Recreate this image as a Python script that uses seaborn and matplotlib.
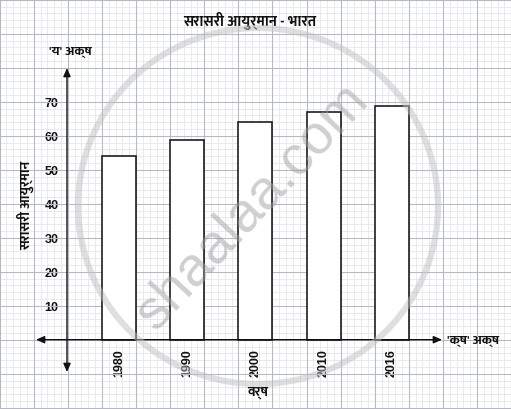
import matplotlib
matplotlib.use('Agg')
import matplotlib.pyplot as plt
import seaborn as sns
import pandas as pd
import numpy as np
from matplotlib import font_manager as fm
from matplotlib.patches import Ellipse

# data
years = ['1980', '1990', '2000', '2010', '2016']
life_exp = [54, 58.8, 64, 67, 68.6]
y_ticks = [10, 20, 30, 40, 50, 60, 70]

title = 'सरासरी आयुर्मान - भारत'
y_label = 'सरासरी आयुर्मान'
x_label = 'वर्ष'
y_axis_name = "'य' अक्ष"
x_axis_name = "'क्ष' अक्ष"


def find_devanagari_font():
    # look for any installed font that has Devanagari glyphs
    try:
        from fontTools.ttLib import TTFont
    except ImportError:
        return None
    found = []
    for path in fm.findSystemFonts():
        try:
            tt = TTFont(path, fontNumber=0, lazy=True)
            cmap = tt.getBestCmap()
            if cmap and 0x0915 in cmap and 0x094D in cmap:
                found.append(path)
        except Exception:
            pass
    if not found:
        return None
    bold = [p for p in found if 'bold' in p.lower()]
    path = (bold or found)[0]
    fm.fontManager.addfont(path)
    return fm.FontProperties(fname=path).get_name()


sns.set_style('white')
deva = find_devanagari_font()
deva_family = [deva, 'Liberation Sans', 'DejaVu Sans'] if deva else ['Liberation Sans', 'DejaVu Sans']
plt.rcParams['font.family'] = ['Liberation Sans', 'DejaVu Sans']

df = pd.DataFrame({'year': years, 'value': life_exp})

fig = plt.figure(figsize=(5.11, 4.10), dpi=100)
ax = fig.add_axes([0, 0, 1, 1])

sns.barplot(data=df, x='year', y='value', order=years, width=0.5,
            color='white', edgecolor='#1e1e1e', linewidth=1.2, ax=ax, zorder=3)

# pixel layout of the original: bar centres every 68.2 px, 10 units = 34 px
x0, sx = 119, 68.2
y0, sy = 340.7, 3.4
ax.set_xlim((0 - x0) / sx, (511 - x0) / sx)
ax.set_ylim((y0 - 410) / sy, y0 / sy)

# graph paper
xmin, xmax = ax.get_xlim()
ymin, ymax = ax.get_ylim()
minor_x = np.arange(-1.85, 5.8, 0.1)
major_x = np.arange(-1.75, 5.8, 0.5)
minor_y = np.arange(-20, 101, 2)
major_y = np.arange(-20, 101, 10)
ax.vlines(minor_x, ymin, ymax, color='#e4e6ee', lw=0.6, zorder=0)
ax.hlines(minor_y, xmin, xmax, color='#e4e6ee', lw=0.6, zorder=0)
ax.vlines(major_x, ymin, ymax, color='#b3b9c8', lw=0.75, zorder=1)
ax.hlines(major_y, xmin, xmax, color='#b3b9c8', lw=0.75, zorder=1)

# axes as arrows
y_axis_x = (67 - x0) / sx
for s in ax.spines.values():
    s.set_visible(False)
ax.spines['left'].set_position(('data', y_axis_x))
ax.spines['bottom'].set_position(('data', 0))
arrow = dict(arrowstyle='<|-|>,head_length=0.5,head_width=0.22', color='#111111',
             lw=1.0, shrinkA=0, shrinkB=0, mutation_scale=10)
ax.annotate('', xy=((442 - x0) / sx, 0), xytext=((36 - x0) / sx, 0),
            arrowprops=arrow, zorder=5)
ax.annotate('', xy=(y_axis_x, (y0 - 69) / sy), xytext=(y_axis_x, (y0 - 373) / sy),
            arrowprops=arrow, zorder=5)

ax.set_yticks(y_ticks)
ax.set_yticklabels([str(t) for t in y_ticks], fontsize=9, fontweight='bold')
ax.tick_params(axis='y', length=0, pad=6, colors='#111111')
ax.set_xticks(range(len(years)))
ax.set_xticklabels(years, rotation=90, fontsize=9, fontweight='bold')
ax.tick_params(axis='x', length=0, pad=6, colors='#111111')
ax.set_xlabel('')
ax.set_ylabel('')


def px_text(px, py, s, **kw):
    fig.text(px / 511, 1 - py / 410, s, family=deva_family, fontweight='bold',
             color='#111111', **kw)


px_text(250, 21, title, fontsize=10.5, ha='center', va='center')
px_text(70, 52, y_axis_name, fontsize=9.5, ha='center', va='center')
px_text(447, 341, x_axis_name, fontsize=9.5, ha='left', va='center')
px_text(258, 393, x_label, fontsize=10, ha='center', va='center')
px_text(25, 205, y_label, fontsize=10, ha='center', va='center', rotation=90)

# watermark
fig.patches.append(Ellipse((258 / 511, 1 - 207 / 410), 2 * 180 / 511, 2 * 178 / 410,
                           transform=fig.transFigure, fill=False, lw=4.5,
                           edgecolor='#c0c0c0', alpha=0.5, zorder=10))
fig.text(252 / 511, 1 - 207 / 410, 'shaalaa.com', rotation=47, fontsize=40,
         family='Liberation Sans', color='#a0a0a0', alpha=0.5,
         ha='center', va='center', rotation_mode='anchor', zorder=10)

fig.savefig('out.png', dpi=100)
